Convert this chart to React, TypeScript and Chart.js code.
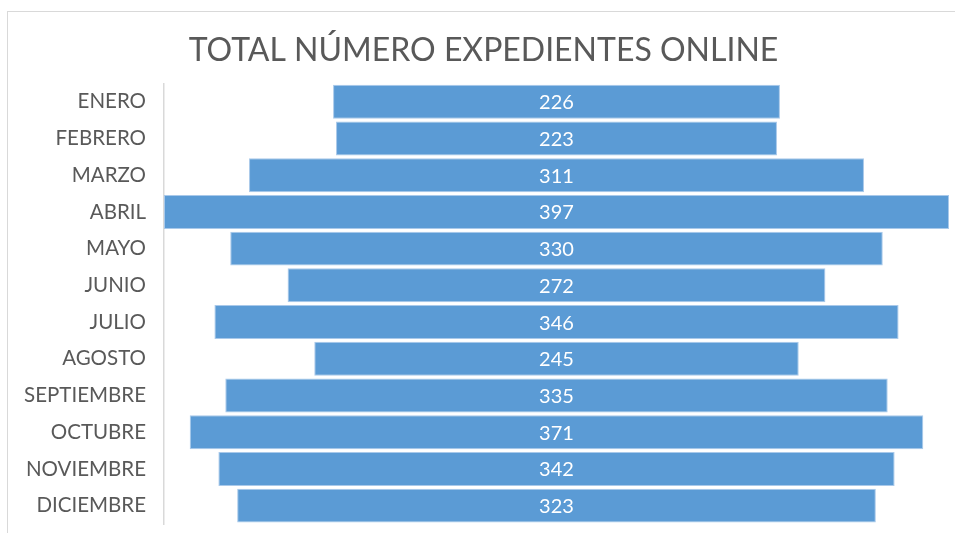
import React, { useEffect, useRef } from "react";
import { Chart, registerables } from "chart.js";

Chart.register(...registerables);

const months = [
  "ENERO", "FEBRERO", "MARZO", "ABRIL", "MAYO", "JUNIO",
  "JULIO", "AGOSTO", "SEPTIEMBRE", "OCTUBRE", "NOVIEMBRE", "DICIEMBRE",
];
const expedientes = [226, 223, 311, 397, 330, 272, 346, 245, 335, 371, 342, 323];
const titleText = "TOTAL NÚMERO EXPEDIENTES ONLINE";

const FONT = "Lato, 'Open Sans', sans-serif";
const TEXT = "#595959";

const centerLabels = {
  id: "centerLabels",
  afterDatasetsDraw(chart: any) {
    const ctx = chart.ctx;
    const meta = chart.getDatasetMeta(0);
    ctx.save();
    ctx.fillStyle = "#ffffff";
    ctx.font = `20px ${FONT}`;
    ctx.textAlign = "center";
    ctx.textBaseline = "middle";
    meta.data.forEach((el: any, i: number) => {
      const cx = (el.x + el.base) / 2;
      ctx.fillText(String(expedientes[i]), cx, el.y + 1);
    });
    ctx.restore();
  },
};

export default function App() {
  const ref = useRef<HTMLCanvasElement>(null);
  useEffect(() => {
    if (!ref.current) return;
    const maxV = Math.max(...expedientes);
    const chart = new Chart(ref.current, {
      type: "bar",
      data: {
        labels: months,
        datasets: [
          {
            data: expedientes.map((v) => [-v / 2, v / 2]) as any,
            backgroundColor: "#5B9BD5",
            borderColor: "#A9C9EA",
            borderWidth: 1,
            borderSkipped: false,
            categoryPercentage: 1,
            barPercentage: 0.925,
          },
        ],
      },
      options: {
        indexAxis: "y",
        animation: false,
        responsive: false,
        maintainAspectRatio: false,
        layout: { padding: { left: 18, right: 6, top: 0, bottom: 9 } },
        plugins: {
          legend: { display: false },
          tooltip: { enabled: false },
          title: {
            display: true,
            text: titleText,
            color: TEXT,
            font: { family: FONT, size: 32, weight: "normal" },
            padding: { top: 31, bottom: 14 },
          },
        },
        scales: {
          x: {
            display: false,
            min: -maxV / 2,
            max: maxV / 2,
          },
          y: {
            afterFit: (scale: any) => {
              scale.width = 146;
              scale.paddingTop = 0;
              scale.paddingBottom = 0;
            },
            grid: { display: false, drawTicks: false },
            border: { display: true, color: "#d9d9d9", width: 1.5 },
            ticks: {
              color: TEXT,
              padding: 18,
              font: { family: FONT, size: 20.5 },
            },
          },
        },
      },
      plugins: [centerLabels],
    });
    return () => chart.destroy();
  }, []);

  return (
    <div style={{ position: "absolute", left: 0, top: 0, width: 955, height: 533, background: "#fff", overflow: "hidden" }}>
      <div
        style={{
          position: "absolute",
          left: 7,
          top: 11,
          width: 960,
          height: 540,
          border: "1px solid #d9d9d9",
          boxSizing: "border-box",
        }}
      />
      <canvas ref={ref} width={955} height={533} style={{ position: "absolute", left: 0, top: 0 }} />
    </div>
  );
}
